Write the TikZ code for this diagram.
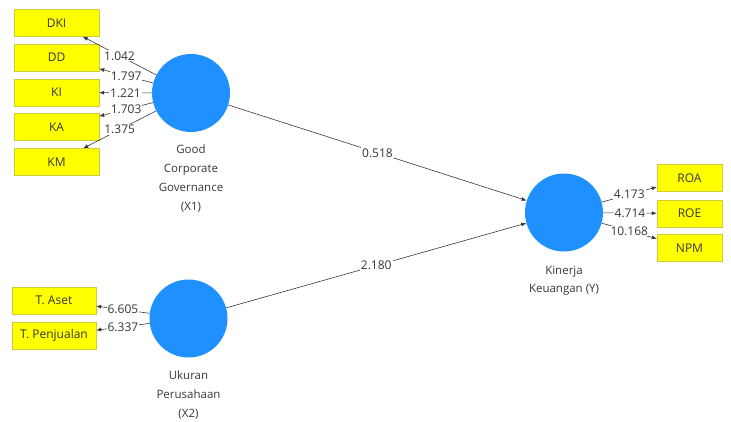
\documentclass[tikz,border=0pt]{standalone}
\usepackage{fontspec}
\setmainfont{Open Sans}
\usepackage{xcolor}
\usetikzlibrary{arrows.meta,positioning,calc}

\definecolor{lvblue}{RGB}{30,144,255}
\definecolor{mvyellow}{RGB}{255,255,0}
\definecolor{mvborder}{RGB}{205,205,60}
\definecolor{txtgray}{RGB}{55,55,55}

\begin{document}
\begin{tikzpicture}[x=1pt,y=-1pt,
    latent/.style={circle,fill=lvblue,minimum size=78pt,inner sep=0pt},
    indicator/.style={rectangle,draw=mvborder,fill=mvyellow,minimum height=27pt,
        inner sep=0pt,text=txtgray,font=\fontsize{12}{14}\selectfont},
    link/.style={-{Latex[length=5pt,width=4pt]},draw=txtgray,line width=0.6pt},
    coef/.style={fill=white,inner sep=1pt,text=txtgray,font=\fontsize{12}{14}\selectfont},
    lvlabel/.style={align=center,text=txtgray,font=\fontsize{11.5}{19}\selectfont}]
            \useasboundingbox (0,0) rectangle (731,421);

            % Latent variables
            \node[latent] (gcg) at (191,93) {};
            \node[latent] (uk) at (188.5,318.5) {};
            \node[latent] (kin) at (564,212.5) {};
            \node[lvlabel,below=9pt of gcg] (gcglab) {Good\\Corporate\\Governance\\(X1)};
            \node[lvlabel,below=10pt of uk] (uklab) {Ukuran\\Perusahaan\\(X2)};
            \node[lvlabel,below=11pt of kin,font=\fontsize{11.5}{17.5}\selectfont] (kinlab) {Kinerja\\Keuangan (Y)};

            % Indicators X1
            \node[indicator,minimum width=85pt] (dki) at (56.5,23) {DKI};
            \node[indicator,minimum width=85pt] (dd) at (56.5,57.5) {DD};
            \node[indicator,minimum width=85pt] (ki) at (56.5,92.5) {KI};
            \node[indicator,minimum width=85pt] (ka) at (56.5,127) {KA};
            \node[indicator,minimum width=85pt] (km) at (56.5,162) {KM};

            % Indicators X2
            \node[indicator,minimum width=84pt] (aset) at (54,300.5) {T. Aset};
            \node[indicator,minimum width=84pt] (jual) at (54,335.5) {T. Penjualan};

            % Indicators Y
            \node[indicator,minimum width=65pt] (roa) at (689.5,178) {ROA};
            \node[indicator,minimum width=65pt] (roe) at (689.5,213.5) {ROE};
            \node[indicator,minimum width=65pt] (npm) at (689.5,248) {NPM};

            % Outer model
            \draw[link] (gcg) -- node[coef]{1.042} (dki);
            \draw[link] (gcg) -- node[coef]{1.797} (dd);
            \draw[link] (gcg) -- node[coef]{1.221} (ki);
            \draw[link] (gcg) -- node[coef]{1.703} (ka);
            \draw[link] (gcg) -- node[coef]{1.375} (km);
            \draw[link] (uk) -- node[coef]{6.605} (aset);
            \draw[link] (uk) -- node[coef]{6.337} (jual);
            \draw[link] (kin) -- node[coef]{4.173} (roa);
            \draw[link] (kin) -- node[coef]{4.714} (roe);
            \draw[link] (kin) -- node[coef]{10.168} (npm);

            % Inner model
            \draw[link] (gcg) -- node[coef]{0.518} (kin);
            \draw[link] (uk) -- node[coef]{2.180} (kin);
\end{tikzpicture}
\end{document}
